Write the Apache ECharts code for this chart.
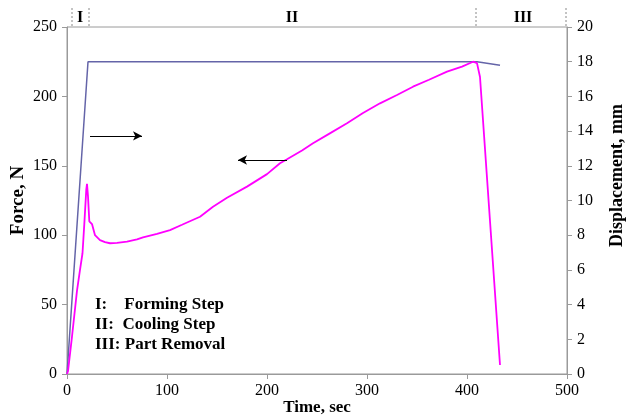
<!DOCTYPE html>
<html>
<head>
<meta charset="utf-8">
<script src="https://cdn.jsdelivr.net/npm/echarts@6/dist/echarts.min.js"></script>
<style>html,body{margin:0;padding:0;background:#fff}#c{width:628px;height:417px}</style>
</head>
<body>
<div id="c"></div>
<script>
// Force (N) vs time (s)
const forceData = [[0,0],[1,2],[5,27],[10,60],[13,75],[15.5,87],[17.3,108],[19.3,133],[20,137],[21,128],[22.3,110],[25,108],[28,100],[33,96.5],[38,95],[43,94.2],[50,94.5],[60,95.3],[70,97],[76,98.5],[90,101],[103,103.7],[115,107.5],[133,113.3],[146,120.5],[160,127],[180,135],[200,144],[213,151.8],[220,154.7],[235,161],[246,166.2],[262,173],[280,180.6],[296,188],[313,195],[330,201],[346,207],[362,212],[380,217.8],[395,221.5],[406,225],[408,225.7],[410,224],[413,214],[433,6.5]];
// Displacement (mm) vs time (s)
const dispData = [[0,0],[21,18],[410,18],[433,17.8]];
const phaseBounds = [5, 22, 409, 499];
const phaseLabels = [['I', 13], ['II', 225], ['III', 456]];
const legendLines = ['I:    Forming Step', 'II:  Cooling Step', 'III: Part Removal'];
const arrowRight = [[23, 171.5], [75, 171.5]];
const arrowLeft = [[220, 154.2], [171, 154.2]];

const serif = '"Liberation Serif","Times New Roman",serif';
const axisCol = '#9a9a9a';
const chart = echarts.init(document.getElementById('c'));
const labelStyle = {color:'#000', fontFamily:serif, fontSize:16};
const nameStyleX = {color:'#000', fontFamily:serif, fontSize:17, fontWeight:'bold'};
const nameStyleY = {color:'#000', fontFamily:serif, fontSize:19, fontWeight:'bold'};
chart.setOption({
  animation:false,
  grid:{left:67,right:61,top:27,bottom:43,outerBoundsMode:'none',containLabel:false,show:true,borderColor:axisCol,borderWidth:1},
  xAxis:{type:'value',min:0,max:500,interval:100,
    name:'Time, sec',nameLocation:'middle',nameGap:25,nameMoveOverlap:false,nameTextStyle:Object.assign({lineHeight:17},nameStyleX),
    axisLine:{lineStyle:{color:axisCol}},axisTick:{lineStyle:{color:axisCol},length:5},
    axisLabel:Object.assign({margin:9},labelStyle),splitLine:{show:false}},
  yAxis:[
    {type:'value',min:0,max:250,interval:50,position:'left',
     name:'Force, N',nameLocation:'middle',nameGap:39,nameMoveOverlap:false,nameRotate:90,nameTextStyle:nameStyleY,
     axisLine:{show:true,lineStyle:{color:axisCol}},axisTick:{show:true,lineStyle:{color:axisCol},length:5},
     axisLabel:Object.assign({margin:10},labelStyle),splitLine:{show:false}},
    {type:'value',min:0,max:20,interval:2,position:'right',
     name:'Displacement, mm',nameLocation:'middle',nameGap:41,nameMoveOverlap:false,nameRotate:90,
     nameTextStyle:Object.assign({padding:[0,0,0,50]},nameStyleY,{fontSize:18}),
     axisLine:{show:true,lineStyle:{color:axisCol}},axisTick:{show:true,lineStyle:{color:axisCol},length:5},
     axisLabel:Object.assign({margin:10},labelStyle),splitLine:{show:false}}
  ],
  series:[
    {type:'line',name:'Displacement',yAxisIndex:1,data:dispData,showSymbol:false,
     lineStyle:{color:'#6464a8',width:1.5},z:2},
    {type:'line',name:'Force',yAxisIndex:0,data:forceData,showSymbol:false,
     lineStyle:{color:'#ff00ff',width:1.8},z:3,
     markLine:{silent:true,symbol:['none','arrow'],symbolSize:[7,9],label:{show:false},
       lineStyle:{color:'#000',width:1,type:'solid'},
       data:[[{coord:arrowRight[0]},{coord:arrowRight[1]}],[{coord:arrowLeft[0]},{coord:arrowLeft[1]}]]}}
  ]
});
const g = [];
const topY = chart.convertToPixel({gridIndex:0},[0,250])[1];
phaseBounds.forEach(t=>{
  const x = chart.convertToPixel({xAxisIndex:0},t);
  g.push({type:'line',shape:{x1:x,y1:topY-19,x2:x,y2:topY},style:{stroke:'#888',lineWidth:1,lineDash:[2,2]}});
});
phaseLabels.forEach(([s,t])=>{
  const x = chart.convertToPixel({xAxisIndex:0},t);
  g.push({type:'text',x:x,y:topY-9,style:{text:s,fill:'#000',font:'bold 16px '+serif,align:'center',verticalAlign:'middle'}});
});
legendLines.forEach((s,i)=>{
  g.push({type:'text',x:95,y:305+i*20,style:{text:s,fill:'#000',font:'bold 17px '+serif,align:'left',verticalAlign:'middle',whiteSpace:'pre'}});
});
chart.setOption({graphic:g});
</script>
</body>
</html>
